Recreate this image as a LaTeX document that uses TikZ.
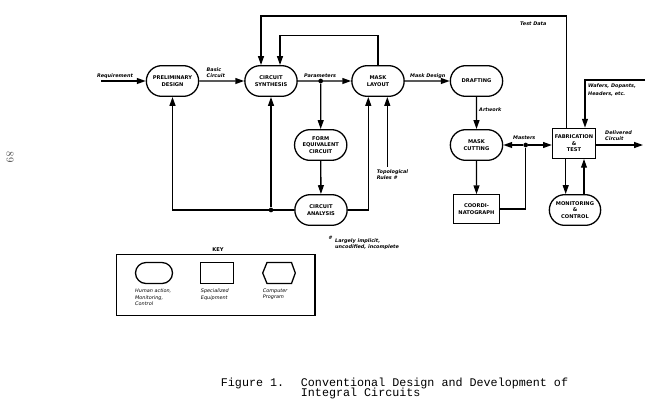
\documentclass[tikz,border=0pt]{standalone}
\usepackage{fontspec}
\usetikzlibrary{positioning}
\usetikzlibrary{shapes.misc}
\usetikzlibrary{arrows.meta}
\newfontfamily\boxfont{DejaVu Sans}
\newfontfamily\capfont{Liberation Mono}

\begin{document}
\begin{tikzpicture}[x=0.03cm,y=-0.03cm,
  act/.style={draw,line width=1.1pt,rounded rectangle,minimum width=1.57cm,minimum height=0.92cm,inner sep=0pt,align=center,font=\boxfont\bfseries\fontsize{4.4}{5.4}\selectfont},
  equip/.style={draw,line width=1.1pt,inner sep=0pt,align=center,font=\boxfont\bfseries\fontsize{4.4}{5.4}\selectfont},
  lbl/.style={inner sep=0pt,align=left,font=\boxfont\bfseries\itshape\fontsize{4.2}{5.2}\selectfont},
  keylbl/.style={inner sep=0pt,align=left,font=\boxfont\itshape\fontsize{4.2}{5.6}\selectfont},
  flow/.style={line width=1.1pt,-{Triangle[length=7.5pt,width=5pt]}},
  dot/.style={circle,fill,inner sep=0pt,minimum size=4pt},
  capt/.style={anchor=base west,inner sep=0pt,font=\capfont\fontsize{10}{10}\selectfont}]
 \useasboundingbox (0,0) rectangle (667,407);
 % page number
 \node[rotate=-90,font=\fontsize{9}{9}\selectfont,text=black!70] (pageno) at (10,157) {89};
 % design chain
 \node[act] (prelim) at (172.5,81) {PRELIMINARY\\DESIGN};
 \node[act] (synth) at (271,81) {CIRCUIT\\SYNTHESIS};
 \node[act] (layout) at (378,81) {MASK\\LAYOUT};
 \node[act] (draft) at (476.5,81) {DRAFTING};
 \node[act] (form) at (320.7,145) {FORM\\EQUIVALENT\\CIRCUIT};
 \node[act] (analysis) at (321,210) {CIRCUIT\\ANALYSIS};
 \node[act] (cutting) at (476.5,145) {MASK\\CUTTING};
 \node[equip,minimum width=1.37cm,minimum height=0.85cm] (coord) at (476.5,209) {COORDI-\\NATOGRAPH};
 \node[equip,minimum width=1.29cm,minimum height=0.9cm] (fab) at (574,143.3) {FABRICATION\\\&\\TEST};
 \node[act,minimum width=1.54cm] (monitor) at (575,210) {MONITORING\\\&\\CONTROL};
 % flow lines
 \coordinate (req) at (101,81);
 \draw[flow] (req) -- (prelim);
 \node[lbl,anchor=base west] (reqlbl) at (97,77) {Requirement};
 \draw[flow] (prelim) -- (synth);
 \node[lbl,anchor=north west] (basiclbl) at (206.5,67.5) {Basic\\Circuit};
 \draw[flow] (synth) -- (layout);
 \node[dot] (pdot) at (320.7,81) {};
 \node[lbl,anchor=base west] (parlbl) at (304,77) {Parameters};
 \draw[flow] (pdot) -- (form);
 \draw[flow] (form) -- (analysis);
 \draw[flow] (layout) -- (draft);
 \node[lbl,anchor=base west] (mdlbl) at (410,77) {Mask Design};
 % feedback loops on top
 \coordinate (tdcorner) at (566.7,16);
 \coordinate (tdleft) at (261,16);
 \draw[flow] (fab.north -| tdcorner) -- (tdcorner) -- (tdleft) -- (tdleft |- synth.north);
 \node[lbl,anchor=base west] (tdlbl) at (520,25) {Test Data};
 \coordinate (mlcorner) at (280,35.7);
 \draw[flow] (layout.north) |- (mlcorner) -- (mlcorner |- synth.north);
 % analysis results
 \coordinate (pdcorner) at (172.5,210);
 \node[dot] (adot) at (271,210) {};
 \draw[flow] (analysis.west) -- (pdcorner) -- (prelim.south);
 \draw[flow] (adot) -- (adot |- synth.south);
 \coordinate (arcorner) at (368.3,210);
 \draw[flow] (analysis.east) -- (arcorner) -- (arcorner |- layout.south);
 \coordinate (topo) at (387.3,166.7);
 \draw[flow] (topo) -- (topo |- layout.south);
 \node[lbl,anchor=north west] (topolbl) at (376.7,169.5) {Topological\\Rules \#};
 \node[lbl,anchor=north west,font=\boxfont\bfseries\fontsize{4}{4}\selectfont] (fnmark) at (328.5,235.5) {\#};
 \node[lbl,anchor=north west] (fnlbl) at (335,238.5) {Largely implicit,\\uncodified, incomplete};
 % mask making
 \draw[flow] (draft) -- (cutting);
 \node[lbl,anchor=base west] (artlbl) at (479,111) {Artwork};
 \draw[flow] (cutting) -- (coord);
 \node[dot] (mdot) at (525.7,145) {};
 \draw[line width=1.1pt] (coord.east) -| (mdot);
 \draw[flow] (mdot) -- (cutting.east);
 \draw[flow] (mdot) -- (mdot -| fab.west);
 \node[lbl,anchor=base west] (maslbl) at (513,139) {Masters};
 % fabrication
 \coordinate (deliv) at (643,145);
 \draw[flow] (fab.east |- deliv) -- (deliv);
 \node[lbl,anchor=north west] (dellbl) at (605,130.5) {Delivered\\Circuit};
 \coordinate (wafer) at (645,80);
 \coordinate (wcorner) at (585,80);
 \draw[flow] (wafer) -- (wcorner) -- (wcorner |- fab.north);
 \node[lbl,anchor=north west,font=\boxfont\bfseries\itshape\fontsize{4.2}{7}\selectfont] (waflbl) at (588,83.5) {Wafers, Dopants,\\Headers, etc.};
 \coordinate (fabdown) at (565.7,0);
 \coordinate (fabup) at (584,0);
 \draw[flow] (fab.south -| fabdown) -- (monitor.north -| fabdown);
 \draw[flow] (monitor.north -| fabup) -- (fab.south -| fabup);
 % key
 \node[draw,line width=1.1pt,minimum width=5.95cm,minimum height=1.83cm,inner sep=0pt] (keybox) at (215.85,284.8) {};
 \node[equip,draw=none] (keytitle) at (218,250) {KEY};
 \node[act,minimum width=1.11cm,minimum height=0.63cm] (keyact) at (154,273) {};
 \node[equip,minimum width=0.97cm,minimum height=0.63cm] (keyequip) at (217,273) {};
 \draw[line width=1.1pt] (262.7,273) -- (267,262.5) -- (291.5,262.5) -- (295.3,273) -- (291.5,283.5) -- (267,283.5) -- cycle;
 \node[keylbl,anchor=north west] (actlbl) at (135,288.5) {Human action,\\Monitoring,\\Control};
 \node[keylbl,anchor=north west] (equiplbl) at (200.7,288.5) {Specialized\\Equipment};
 \node[keylbl,anchor=north west] (proglbl) at (262.7,288.5) {Computer\\Program};
 % caption
 \node[capt] (figno) at (220.7,386) {Figure 1.};
 \node[capt] (captxt) at (300.7,386) {Conventional Design and Development of};
 \node[capt] (captxtb) at (300.7,396) {Integral Circuits};
\end{tikzpicture}
\end{document}
